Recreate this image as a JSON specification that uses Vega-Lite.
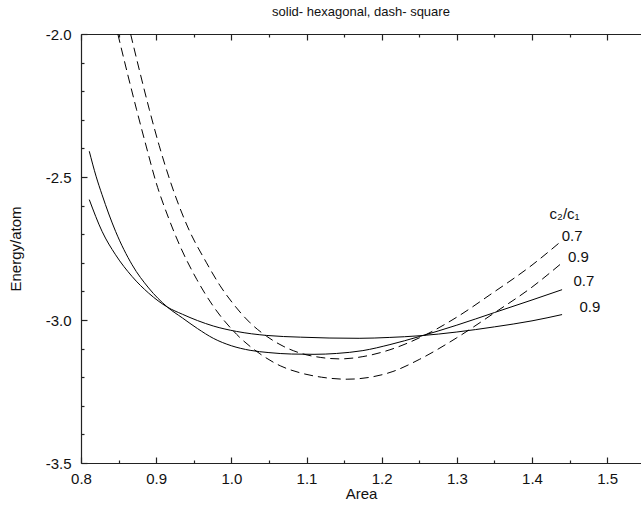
{
  "$schema": "https://vega.github.io/schema/vega-lite/v6.json",
  "width": 560,
  "height": 429,
  "autosize": {"type": "none"},
  "padding": {"left": 81, "top": 34, "right": 0, "bottom": 43},
  "background": "white",
  "title": {"text": "solid- hexagonal, dash- square", "font": "Liberation Sans", "fontSize": 13, "fontWeight": "normal", "color": "#111", "offset": 8},
  "config": {"view": {"stroke": null}, "axis": {"grid": false, "tickColor": "#222", "tickWidth": 1.2, "domainColor": "#222", "domainWidth": 1.2}},
  "datasets": {
    "curves": [
      {"lattice": "hexagonal", "ratio": "0.7", "A": 0.811, "E": -2.410},
      {"lattice": "hexagonal", "ratio": "0.7", "A": 0.820, "E": -2.497},
      {"lattice": "hexagonal", "ratio": "0.7", "A": 0.828, "E": -2.562},
      {"lattice": "hexagonal", "ratio": "0.7", "A": 0.846, "E": -2.690},
      {"lattice": "hexagonal", "ratio": "0.7", "A": 0.868, "E": -2.807},
      {"lattice": "hexagonal", "ratio": "0.7", "A": 0.890, "E": -2.888},
      {"lattice": "hexagonal", "ratio": "0.7", "A": 0.915, "E": -2.955},
      {"lattice": "hexagonal", "ratio": "0.7", "A": 0.935, "E": -2.993},
      {"lattice": "hexagonal", "ratio": "0.7", "A": 0.955, "E": -3.030},
      {"lattice": "hexagonal", "ratio": "0.7", "A": 0.976, "E": -3.064},
      {"lattice": "hexagonal", "ratio": "0.7", "A": 1.000, "E": -3.090},
      {"lattice": "hexagonal", "ratio": "0.7", "A": 1.025, "E": -3.106},
      {"lattice": "hexagonal", "ratio": "0.7", "A": 1.050, "E": -3.114},
      {"lattice": "hexagonal", "ratio": "0.7", "A": 1.080, "E": -3.119},
      {"lattice": "hexagonal", "ratio": "0.7", "A": 1.110, "E": -3.120},
      {"lattice": "hexagonal", "ratio": "0.7", "A": 1.140, "E": -3.117},
      {"lattice": "hexagonal", "ratio": "0.7", "A": 1.175, "E": -3.107},
      {"lattice": "hexagonal", "ratio": "0.7", "A": 1.211, "E": -3.086},
      {"lattice": "hexagonal", "ratio": "0.7", "A": 1.250, "E": -3.058},
      {"lattice": "hexagonal", "ratio": "0.7", "A": 1.300, "E": -3.018},
      {"lattice": "hexagonal", "ratio": "0.7", "A": 1.350, "E": -2.974},
      {"lattice": "hexagonal", "ratio": "0.7", "A": 1.400, "E": -2.930},
      {"lattice": "hexagonal", "ratio": "0.7", "A": 1.440, "E": -2.894},
      {"lattice": "hexagonal", "ratio": "0.9", "A": 0.811, "E": -2.579},
      {"lattice": "hexagonal", "ratio": "0.9", "A": 0.828, "E": -2.690},
      {"lattice": "hexagonal", "ratio": "0.9", "A": 0.846, "E": -2.772},
      {"lattice": "hexagonal", "ratio": "0.9", "A": 0.868, "E": -2.848},
      {"lattice": "hexagonal", "ratio": "0.9", "A": 0.890, "E": -2.906},
      {"lattice": "hexagonal", "ratio": "0.9", "A": 0.915, "E": -2.955},
      {"lattice": "hexagonal", "ratio": "0.9", "A": 0.935, "E": -2.980},
      {"lattice": "hexagonal", "ratio": "0.9", "A": 0.955, "E": -3.002},
      {"lattice": "hexagonal", "ratio": "0.9", "A": 0.976, "E": -3.021},
      {"lattice": "hexagonal", "ratio": "0.9", "A": 1.007, "E": -3.040},
      {"lattice": "hexagonal", "ratio": "0.9", "A": 1.047, "E": -3.054},
      {"lattice": "hexagonal", "ratio": "0.9", "A": 1.092, "E": -3.060},
      {"lattice": "hexagonal", "ratio": "0.9", "A": 1.130, "E": -3.063},
      {"lattice": "hexagonal", "ratio": "0.9", "A": 1.170, "E": -3.064},
      {"lattice": "hexagonal", "ratio": "0.9", "A": 1.210, "E": -3.061},
      {"lattice": "hexagonal", "ratio": "0.9", "A": 1.251, "E": -3.055},
      {"lattice": "hexagonal", "ratio": "0.9", "A": 1.300, "E": -3.042},
      {"lattice": "hexagonal", "ratio": "0.9", "A": 1.350, "E": -3.024},
      {"lattice": "hexagonal", "ratio": "0.9", "A": 1.400, "E": -3.003},
      {"lattice": "hexagonal", "ratio": "0.9", "A": 1.440, "E": -2.981},
      {"lattice": "square", "ratio": "0.9", "A": 0.849, "E": -2.000},
      {"lattice": "square", "ratio": "0.9", "A": 0.862, "E": -2.140},
      {"lattice": "square", "ratio": "0.9", "A": 0.874, "E": -2.265},
      {"lattice": "square", "ratio": "0.9", "A": 0.887, "E": -2.395},
      {"lattice": "square", "ratio": "0.9", "A": 0.900, "E": -2.520},
      {"lattice": "square", "ratio": "0.9", "A": 0.916, "E": -2.640},
      {"lattice": "square", "ratio": "0.9", "A": 0.932, "E": -2.743},
      {"lattice": "square", "ratio": "0.9", "A": 0.954, "E": -2.858},
      {"lattice": "square", "ratio": "0.9", "A": 0.976, "E": -2.952},
      {"lattice": "square", "ratio": "0.9", "A": 1.007, "E": -3.050},
      {"lattice": "square", "ratio": "0.9", "A": 1.038, "E": -3.118},
      {"lattice": "square", "ratio": "0.9", "A": 1.065, "E": -3.160},
      {"lattice": "square", "ratio": "0.9", "A": 1.092, "E": -3.185},
      {"lattice": "square", "ratio": "0.9", "A": 1.120, "E": -3.200},
      {"lattice": "square", "ratio": "0.9", "A": 1.154, "E": -3.207},
      {"lattice": "square", "ratio": "0.9", "A": 1.185, "E": -3.200},
      {"lattice": "square", "ratio": "0.9", "A": 1.215, "E": -3.180},
      {"lattice": "square", "ratio": "0.9", "A": 1.250, "E": -3.138},
      {"lattice": "square", "ratio": "0.9", "A": 1.300, "E": -3.062},
      {"lattice": "square", "ratio": "0.9", "A": 1.350, "E": -2.975},
      {"lattice": "square", "ratio": "0.9", "A": 1.400, "E": -2.885},
      {"lattice": "square", "ratio": "0.9", "A": 1.440, "E": -2.800},
      {"lattice": "square", "ratio": "0.7", "A": 0.866, "E": -2.000},
      {"lattice": "square", "ratio": "0.7", "A": 0.878, "E": -2.130},
      {"lattice": "square", "ratio": "0.7", "A": 0.891, "E": -2.265},
      {"lattice": "square", "ratio": "0.7", "A": 0.904, "E": -2.390},
      {"lattice": "square", "ratio": "0.7", "A": 0.918, "E": -2.509},
      {"lattice": "square", "ratio": "0.7", "A": 0.942, "E": -2.675},
      {"lattice": "square", "ratio": "0.7", "A": 0.967, "E": -2.800},
      {"lattice": "square", "ratio": "0.7", "A": 0.985, "E": -2.880},
      {"lattice": "square", "ratio": "0.7", "A": 1.003, "E": -2.945},
      {"lattice": "square", "ratio": "0.7", "A": 1.025, "E": -3.010},
      {"lattice": "square", "ratio": "0.7", "A": 1.047, "E": -3.057},
      {"lattice": "square", "ratio": "0.7", "A": 1.070, "E": -3.093},
      {"lattice": "square", "ratio": "0.7", "A": 1.092, "E": -3.116},
      {"lattice": "square", "ratio": "0.7", "A": 1.119, "E": -3.131},
      {"lattice": "square", "ratio": "0.7", "A": 1.145, "E": -3.136},
      {"lattice": "square", "ratio": "0.7", "A": 1.175, "E": -3.128},
      {"lattice": "square", "ratio": "0.7", "A": 1.211, "E": -3.104},
      {"lattice": "square", "ratio": "0.7", "A": 1.256, "E": -3.055},
      {"lattice": "square", "ratio": "0.7", "A": 1.300, "E": -2.990},
      {"lattice": "square", "ratio": "0.7", "A": 1.344, "E": -2.912},
      {"lattice": "square", "ratio": "0.7", "A": 1.400, "E": -2.808},
      {"lattice": "square", "ratio": "0.7", "A": 1.440, "E": -2.722}
    ],
    "ratios": [
      {"label": "0.7", "A": 1.4533, "E": -2.705},
      {"label": "0.9", "A": 1.4617, "E": -2.780},
      {"label": "0.7", "A": 1.4689, "E": -2.863},
      {"label": "0.9", "A": 1.4769, "E": -2.955}
    ],
    "header": [
      {"label": "c₂/c₁", "A": 1.4434, "E": -2.628}
    ]
  },
  "layer": [
    {
      "data": {"name": "curves"},
      "transform": [{"filter": "datum.lattice === 'hexagonal' && datum.ratio === '0.7'"}],
      "mark": {"type": "line", "color": "#000", "strokeWidth": 1, "interpolate": "monotone", "clip": true},
      "encoding": {
        "x": {
          "field": "A", "type": "quantitative",
          "scale": {"domain": [0.8, 1.545], "nice": false, "zero": false},
          "axis": {
            "orient": "bottom", "title": "Area", "ticks": false,
            "values": [0.8, 0.9, 1.0, 1.1, 1.2, 1.3, 1.4, 1.5],
            "format": ".1f",
            "labelFont": "Liberation Sans", "labelFontSize": 15, "labelColor": "#111", "labelPadding": 8,
            "labelFlush": false, "labelOverlap": false,
            "titleFont": "Liberation Sans", "titleFontSize": 15, "titleFontWeight": "normal", "titleColor": "#111",
            "titleY": 30, "titleBaseline": "middle"
          }
        },
        "y": {
          "field": "E", "type": "quantitative",
          "scale": {"domain": [-3.5, -2.0], "nice": false, "zero": false},
          "axis": {
            "orient": "left", "title": "Energy/atom", "ticks": false,
            "values": [-3.5, -3.0, -2.5, -2.0],
            "labelExpr": "'-' + format(abs(datum.value), '.1f')",
            "labelFont": "Liberation Sans", "labelFontSize": 15, "labelColor": "#111", "labelPadding": 10,
            "labelFlush": false, "labelOverlap": false,
            "titleFont": "Liberation Sans", "titleFontSize": 15, "titleFontWeight": "normal", "titleColor": "#111",
            "titleX": -66, "titleBaseline": "middle"
          }
        }
      }
    },
    {
      "data": {"name": "curves"},
      "transform": [{"filter": "datum.lattice === 'hexagonal' && datum.ratio === '0.9'"}],
      "mark": {"type": "line", "color": "#000", "strokeWidth": 1, "interpolate": "monotone", "clip": true},
      "encoding": {
        "x": {
          "field": "A", "type": "quantitative",
          "scale": {"domain": [0.8, 1.545], "nice": false, "zero": false},
          "axis": {
            "orient": "bottom", "title": null, "labels": false, "domain": false,
            "values": [0.8, 0.9, 1.0, 1.1, 1.2, 1.3, 1.4, 1.5],
            "tickSize": 6, "offset": -6
          }
        },
        "y": {
          "field": "E", "type": "quantitative",
          "scale": {"domain": [-3.5, -2.0], "nice": false, "zero": false},
          "axis": {
            "orient": "left", "title": null, "labels": false, "domain": false,
            "values": [-3.5, -3.0, -2.5, -2.0],
            "tickSize": 6, "offset": -6
          }
        }
      }
    },
    {
      "data": {"name": "curves"},
      "transform": [{"filter": "datum.lattice === 'square' && datum.ratio === '0.9'"}],
      "mark": {"type": "line", "color": "#000", "strokeWidth": 1, "strokeDash": [9, 5], "interpolate": "monotone", "clip": true},
      "encoding": {
        "x": {
          "field": "A", "type": "quantitative",
          "scale": {"domain": [0.8, 1.545], "nice": false, "zero": false},
          "axis": {
            "orient": "bottom", "title": null, "labels": false, "domain": false,
            "values": [0.85, 0.95, 1.05, 1.15, 1.25, 1.35, 1.45],
            "tickSize": 3, "offset": -3
          }
        },
        "y": {
          "field": "E", "type": "quantitative",
          "scale": {"domain": [-3.5, -2.0], "nice": false, "zero": false},
          "axis": {
            "orient": "left", "title": null, "labels": false, "domain": false,
            "values": [-3.4, -3.3, -3.2, -3.1, -2.9, -2.8, -2.7, -2.6, -2.4, -2.3, -2.2, -2.1],
            "tickSize": 3, "offset": -3
          }
        }
      }
    },
    {
      "data": {"name": "curves"},
      "transform": [{"filter": "datum.lattice === 'square' && datum.ratio === '0.7'"}],
      "mark": {"type": "line", "color": "#000", "strokeWidth": 1, "strokeDash": [9, 5], "interpolate": "monotone", "clip": true},
      "encoding": {
        "x": {
          "field": "A", "type": "quantitative",
          "scale": {"domain": [0.8, 1.545], "nice": false, "zero": false},
          "axis": {
            "orient": "top", "title": null, "labels": false, "ticks": false,
            "values": [0.8, 0.9, 1.0, 1.1, 1.2, 1.3, 1.4, 1.5]
          }
        },
        "y": {
          "field": "E", "type": "quantitative",
          "scale": {"domain": [-3.5, -2.0], "nice": false, "zero": false},
          "axis": null
        }
      }
    },
    {
      "data": {"name": "ratios"},
      "mark": {"type": "text", "font": "Liberation Sans", "fontSize": 15, "color": "#111", "align": "center", "baseline": "middle"},
      "encoding": {
        "x": {
          "field": "A", "type": "quantitative",
          "scale": {"domain": [0.8, 1.545], "nice": false, "zero": false},
          "axis": {
            "orient": "top", "title": null, "labels": false, "domain": false,
            "values": [0.8, 0.9, 1.0, 1.1, 1.2, 1.3, 1.4, 1.5],
            "tickSize": 6, "offset": -6
          }
        },
        "y": {
          "field": "E", "type": "quantitative",
          "scale": {"domain": [-3.5, -2.0], "nice": false, "zero": false},
          "axis": null
        },
        "text": {"field": "label"}
      }
    },
    {
      "data": {"name": "header"},
      "mark": {"type": "text", "font": "Liberation Sans", "fontSize": 15, "color": "#111", "align": "center", "baseline": "middle"},
      "encoding": {
        "x": {
          "field": "A", "type": "quantitative",
          "scale": {"domain": [0.8, 1.545], "nice": false, "zero": false},
          "axis": {
            "orient": "top", "title": null, "labels": false, "domain": false,
            "values": [0.85, 0.95, 1.05, 1.15, 1.25, 1.35, 1.45],
            "tickSize": 3, "offset": -3
          }
        },
        "y": {
          "field": "E", "type": "quantitative",
          "scale": {"domain": [-3.5, -2.0], "nice": false, "zero": false},
          "axis": null
        },
        "text": {"field": "label"}
      }
    }
  ],
  "resolve": {"axis": {"x": "independent", "y": "independent"}}
}
